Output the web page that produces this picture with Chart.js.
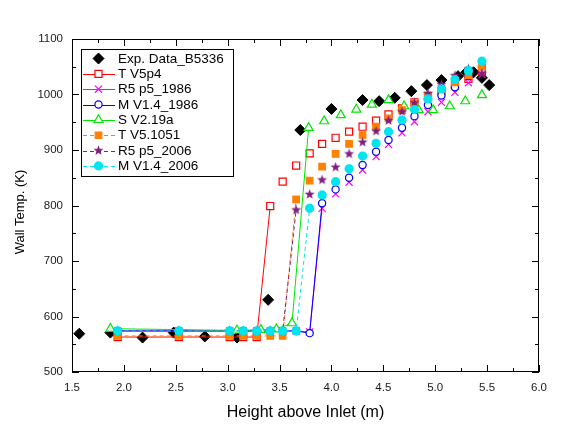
<!DOCTYPE html>
<html>
<head>
<meta charset="utf-8">
<script src="https://cdn.jsdelivr.net/npm/chart.js@4/dist/chart.umd.min.js"></script>
<style>
body{margin:0;background:#fff;}
#caixa{width:577px;height:428px;}
</style>
</head>
<body>
<div id="caixa"><canvas id="grafico" width="577" height="428"></canvas></div>
<script>
// eixos
const xTicks = [1.5, 2.0, 2.5, 3.0, 3.5, 4.0, 4.5, 5.0, 5.5, 6.0];
const yTicks = [500, 600, 700, 800, 900, 1000, 1100];

// experimento
const expX = [1.57, 1.87, 2.18, 2.48, 2.78, 3.09, 3.39, 3.70, 4.00, 4.30, 4.46, 4.61, 4.77, 4.92, 5.06, 5.22, 5.30, 5.37, 5.45, 5.52];
const expY = [569, 571, 562, 571, 564, 562, 630, 936, 974, 990, 988, 994, 1006, 1017, 1026, 1033, 1040, 1040, 1030, 1017];

// nos dos codigos (m)
const alturas = [1.94, 2.53, 3.02, 3.15, 3.28, 3.41, 3.53, 3.66, 3.79, 3.91, 4.04, 4.17, 4.30, 4.43, 4.55, 4.68, 4.80, 4.93, 5.06, 5.19, 5.32, 5.45];

const tV5p4    = [563, 563, 563, 563, 563, 799, 843, 872, 894, 911, 922, 933, 942, 953, 964, 975, 986, 996, 1006, 1016, 1028, 1042];
const r5_1986  = [574, 574, 574, 574, 574, 574, 574, 574, 572, 795, 821, 842, 864, 888, 910, 931, 951, 969, 986, 1004, 1021, 1036];
const m14_1986 = [574, 574, 574, 574, 574, 574, 574, 574, 570, 804, 829, 850, 873, 897, 918, 940, 961, 981, 998, 1013, 1033, 1051];
const tV51051  = [565, 565, 565, 565, 565, 565, 565, 811, 845, 870, 893, 911, 927, 942, 957, 972, 984, 998, 1010, 1022, 1035, 1050];
const r5_2006  = [574, 574, 574, 574, 574, 574, 574, 792, 820, 846, 869, 893, 914, 934, 953, 969, 985, 1002, 1018, 1034, 1046, 1038];
const m14_2006 = [574, 574, 574, 574, 574, 574, 574, 574, 795, 819, 843, 866, 889, 912, 933, 954, 973, 992, 1010, 1027, 1043, 1060];

// S V2.19a tem outros nos
const sX = [1.87, 3.09, 3.32, 3.47, 3.62, 3.78, 3.93, 4.09, 4.24, 4.39, 4.55, 4.70, 4.84, 4.98, 5.14, 5.29, 5.45];
const sY = [578, 575, 576, 577, 588, 940, 952, 963, 973, 982, 990, 979, 972, 972, 979, 988, 999];

const nomes = ["Exp. Data_B5336", "T V5p4", "R5 p5_1986", "M V1.4_1986", "S V2.19a", "T V5.1051", "R5 p5_2006", "M V1.4_2006"];

function pontos(xs, ys){
    return xs.map((x, i) => ({x: x, y: ys[i]}));
}

// estrela cheia para R5 p5_2006
function criarEstrela(cor){
    const c = document.createElement("canvas");
    c.width = 11;
    c.height = 11;
    const g = c.getContext("2d");
    g.fillStyle = cor;
    g.beginPath();
    for(let i = 0; i < 10; i++){
        const r = i % 2 === 0 ? 5.3 : 2.2;
        const a = -Math.PI / 2 + i * Math.PI / 5;
        const px = 5.5 + r * Math.cos(a);
        const py = 5.5 + r * Math.sin(a);
        if(i === 0) g.moveTo(px, py); else g.lineTo(px, py);
    }
    g.closePath();
    g.fill();
    return c;
}
const estrela = criarEstrela("#7f1f7f");

// linhas so aparecem na parte baixa e no salto
function esconderAlto(cor){
    return ctx => (ctx.p0.parsed.y > 700 && ctx.p1.parsed.y > 700) ? "rgba(0,0,0,0)" : cor;
}

function serie(nome, dados, cor, estilo, raio, fundo, tracejado, ordem){
    return {
        label: nome,
        data: dados,
        borderColor: cor,
        backgroundColor: fundo,
        pointBorderColor: cor,
        pointBackgroundColor: fundo,
        pointStyle: estilo,
        pointRadius: raio,
        pointBorderWidth: 1.2,
        borderWidth: 1,
        borderDash: tracejado,
        showLine: true,
        tension: 0,
        order: ordem,
        segment: { borderColor: esconderAlto(cor) }
    };
}

const datasets = [
    {
        label: nomes[0],
        data: pontos(expX, expY),
        showLine: false,
        pointStyle: "rectRot",
        pointRadius: 5.5,
        pointBackgroundColor: "#000",
        pointBorderColor: "#000",
        pointBorderWidth: 1,
        borderColor: "#000",
        backgroundColor: "#000",
        order: 7
    },
    serie(nomes[1], pontos(alturas, tV5p4), "#ff0000", "rect", 5, "#fff", [], 6),
    serie(nomes[2], pontos(alturas, r5_1986), "#ff00ff", "crossRot", 5, "#ff00ff", [], 5),
    serie(nomes[3], pontos(alturas, m14_1986), "#0000ff", "circle", 3.6, "#fff", [], 4),
    serie(nomes[4], pontos(sX, sY), "#00e600", "triangle", 5.2, "#fff", [], 3),
    serie(nomes[5], pontos(alturas, tV51051), "#ff8000", "rect", 4.6, "#ff8000", [4, 3], 2),
    serie(nomes[6], pontos(alturas, r5_2006), "#7f1f7f", estrela, 5, "#7f1f7f", [4, 3], 1),
    serie(nomes[7], pontos(alturas, m14_2006), "#00e5ee", "circle", 4, "#00e5ee", [4, 3], 0)
];

function desenharMarcador(ctx, ds, x, y){
    const estilo = ds.pointStyle;
    const r = ds.pointRadius;
    ctx.save();
    ctx.setLineDash([]);
    ctx.lineWidth = ds.pointBorderWidth || 1;
    ctx.strokeStyle = ds.pointBorderColor;
    ctx.fillStyle = ds.pointBackgroundColor;
    if(typeof estilo !== "string"){
        ctx.drawImage(estilo, x - estilo.width / 2, y - estilo.height / 2);
        ctx.restore();
        return;
    }
    ctx.beginPath();
    if(estilo === "rectRot"){
        ctx.moveTo(x, y - r); ctx.lineTo(x + r, y); ctx.lineTo(x, y + r); ctx.lineTo(x - r, y);
        ctx.closePath(); ctx.fill(); ctx.stroke();
    } else if(estilo === "rect"){
        const s = r * Math.SQRT1_2;
        ctx.rect(x - s, y - s, 2 * s, 2 * s); ctx.fill(); ctx.stroke();
    } else if(estilo === "circle"){
        ctx.arc(x, y, r, 0, Math.PI * 2); ctx.fill(); ctx.stroke();
    } else if(estilo === "triangle"){
        ctx.moveTo(x, y - r);
        ctx.lineTo(x + r * Math.cos(Math.PI / 6), y + r / 2);
        ctx.lineTo(x - r * Math.cos(Math.PI / 6), y + r / 2);
        ctx.closePath(); ctx.fill(); ctx.stroke();
    } else if(estilo === "crossRot"){
        const s = r * Math.SQRT1_2;
        ctx.moveTo(x - s, y - s); ctx.lineTo(x + s, y + s);
        ctx.moveTo(x + s, y - s); ctx.lineTo(x - s, y + s);
        ctx.stroke();
    }
    ctx.restore();
}

// moldura com ticks para dentro nos quatro lados
const moldura = {
    id: "moldura",
    afterDatasetsDraw(chart){
        const ctx = chart.ctx;
        const a = chart.chartArea;
        const sx = chart.scales.x;
        const sy = chart.scales.y;
        ctx.save();
        ctx.strokeStyle = "#000";
        ctx.lineWidth = 1;
        ctx.setLineDash([]);
        ctx.strokeRect(a.left + 0.5, a.top + 0.5, a.right - a.left - 1, a.bottom - a.top - 1);
        ctx.beginPath();
        for(let v = 1.5; v <= 6.0001; v += 0.25){
            const px = Math.round(sx.getPixelForValue(v)) + 0.5;
            const len = Math.abs(v * 2 - Math.round(v * 2)) < 0.01 ? 7 : 4;
            ctx.moveTo(px, a.bottom); ctx.lineTo(px, a.bottom - len);
            ctx.moveTo(px, a.top); ctx.lineTo(px, a.top + len);
        }
        for(let v = 500; v <= 1100; v += 50){
            const py = Math.round(sy.getPixelForValue(v)) + 0.5;
            const len = v % 100 === 0 ? 7 : 4;
            ctx.moveTo(a.left, py); ctx.lineTo(a.left + len, py);
            ctx.moveTo(a.right, py); ctx.lineTo(a.right - len, py);
        }
        ctx.stroke();
        ctx.restore();
    },
    afterDraw(chart){
        const ctx = chart.ctx;
        ctx.save();
        // titulo do eixo y
        ctx.translate(20.5, 212);
        ctx.rotate(-Math.PI / 2);
        ctx.font = "13px 'Liberation Sans', Arial, sans-serif";
        ctx.fillStyle = "#000";
        ctx.textAlign = "center";
        ctx.textBaseline = "middle";
        ctx.fillText("Wall Temp. (K)", 0, 0);
        ctx.restore();

        // legenda dentro do grafico
        const caixa = {x: 81.5, y: 49.5, w: 152, h: 127};
        ctx.save();
        ctx.fillStyle = "#fff";
        ctx.fillRect(caixa.x, caixa.y, caixa.w, caixa.h);
        ctx.strokeStyle = "#000";
        ctx.lineWidth = 1;
        ctx.strokeRect(caixa.x, caixa.y, caixa.w, caixa.h);
        ctx.font = "13.5px 'Liberation Sans', Arial, sans-serif";
        ctx.textBaseline = "middle";
        ctx.fillStyle = "#000";
        chart.data.datasets.forEach((ds, i) => {
            const y = 58.5 + i * 15.35;
            if(ds.showLine !== false){
                ctx.save();
                ctx.strokeStyle = ds.borderColor;
                ctx.lineWidth = 1;
                ctx.setLineDash(ds.borderDash || []);
                ctx.beginPath();
                ctx.moveTo(83, Math.round(y) + 0.5);
                ctx.lineTo(115, Math.round(y) + 0.5);
                ctx.stroke();
                ctx.restore();
            }
            desenharMarcador(ctx, ds, 98.5, y);
            ctx.fillStyle = "#000";
            ctx.fillText(ds.label, 118, y + 0.5);
        });
        ctx.restore();
    }
};

const fonteEixo = { family: "'Liberation Sans', Arial, sans-serif", size: 11.5 };
const fonteTitulo = { family: "'Liberation Sans', Arial, sans-serif", size: 16 };

new Chart(document.getElementById("grafico"), {
    type: "line",
    data: { datasets: datasets },
    options: {
        responsive: false,
        animation: false,
        layout: { padding: { left: 0, right: 38, top: 39, bottom: 0 } },
        plugins: { legend: { display: false }, tooltip: { enabled: false } },
        scales: {
            x: {
                type: "linear",
                min: 1.5,
                max: 6.0,
                afterBuildTicks: s => { s.ticks = xTicks.map(v => ({value: v})); },
                afterFit: s => { s.height = 56; },
                ticks: {
                    font: fonteEixo,
                    color: "#1a1a1a",
                    padding: 9,
                    maxRotation: 0,
                    callback: v => Number(v).toFixed(1)
                },
                grid: { display: false, drawTicks: false },
                border: { display: false },
                title: {
                    display: true,
                    text: "Height above Inlet (m)",
                    font: fonteTitulo,
                    color: "#000",
                    padding: { top: 0, bottom: 6 }
                }
            },
            y: {
                type: "linear",
                min: 500,
                max: 1100,
                afterBuildTicks: s => { s.ticks = yTicks.map(v => ({value: v})); },
                afterFit: s => { s.width = 72; },
                ticks: {
                    font: fonteEixo,
                    color: "#1a1a1a",
                    padding: 9,
                    callback: v => String(v)
                },
                grid: { display: false, drawTicks: false },
                border: { display: false }
            }
        }
    },
    plugins: [moldura]
});
</script>
</body>
</html>
